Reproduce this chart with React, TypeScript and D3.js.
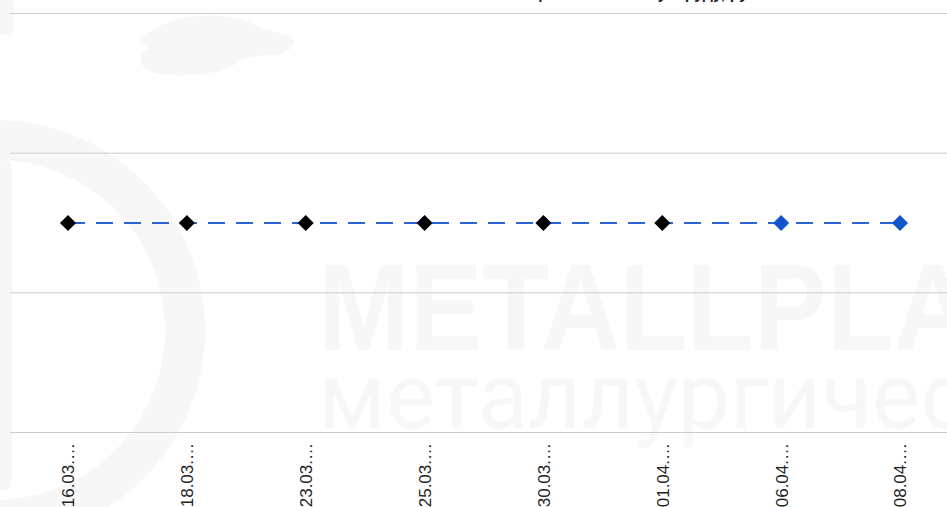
import React from "react";
import * as d3 from "d3";

const categories = ["16.03.2021", "18.03.2021", "23.03.2021", "25.03.2021", "30.03.2021", "01.04.2021", "06.04.2021", "08.04.2021"];
const values = [30000, 30000, 30000, 30000, 30000, 30000, 30000, 30000];
const forecast = [false, false, false, false, false, false, true, true];
const yTicks = [0, 20000, 40000, 60000];
const titleText = "Цены на железную руду, руб/т";

const W = 947;
const H = 507;

export default function App() {
  const x = d3.scalePoint<string>().domain(categories).range([68, 900]);
  const y = d3.scaleLinear().domain([0, 60000]).range([432.5, 13.5]);
  const pts = categories.map((c, i) => ({ c, v: values[i], f: forecast[i] }));
  const line = d3
    .line<{ c: string; v: number }>()
    .x((d) => x(d.c) as number)
    .y((d) => y(d.v));
  const diamond = d3.symbol().type(d3.symbolDiamond2).size(165)();

  return (
    <svg
      width={W}
      height={H}
      style={{ position: "absolute", left: 0, top: 0, background: "#fff" }}
      fontFamily="'Liberation Sans', Arial, sans-serif"
    >
      {/* watermark */}
      <g fill="#f7f7f7">
        <rect x={-10} y={-10} width={24} height={45} rx={8} />
        <path d="M140,40 C165,12 230,10 255,25 C275,35 300,32 292,46 C285,60 250,52 238,62 C225,76 165,80 148,70 C135,62 140,52 150,48 Z" />
        <circle cx={-5} cy={330} r={190} fill="none" stroke="#f7f7f7" strokeWidth={40} />
        <rect x={-10} y={160} width={22} height={330} rx={8} />
      </g>
      <text transform="translate(318,350) scale(0.89,1)" fontSize={123} fontWeight="bold" fill="#f7f7f7" fontFamily="'Liberation Sans', Arial, sans-serif">
        METALLPLANT
      </text>
      <text x={318} y={428} fontSize={92} fill="#f7f7f7" fontFamily="Roboto, sans-serif">
        металлургический
      </text>

      {/* title cut off */}
      <text x={650} y={-1} textAnchor="middle" fontSize={16} fontWeight="bold" fill="#222">
        {titleText}
      </text>

      {/* gridlines */}
      {yTicks.map((t) => (
        <line key={t} x1={10} x2={W} y1={y(t)} y2={y(t)} stroke="#cccccc" strokeWidth={1} />
      ))}

      {/* line */}
      <path d={line(pts) || ""} fill="none" stroke="#2b63d6" strokeWidth={2} strokeDasharray="17,11" />

      {/* markers */}
      {pts.map((d) => (
        <path
          key={d.c}
          d={diamond || ""}
          transform={`translate(${x(d.c)},${y(d.v)})`}
          fill={d.f ? "#1155cc" : "#000000"}
        />
      ))}

      {/* x labels */}
      {categories.map((c) => (
        <text
          key={c}
          transform={`translate(${(x(c) as number) + 0.5},443) rotate(-90)`}
          textAnchor="end"
          dy="0.35em"
          fontSize={17}
          fill="#222"
        >
          {c.slice(0, 6) + "…"}
        </text>
      ))}
    </svg>
  );
}
